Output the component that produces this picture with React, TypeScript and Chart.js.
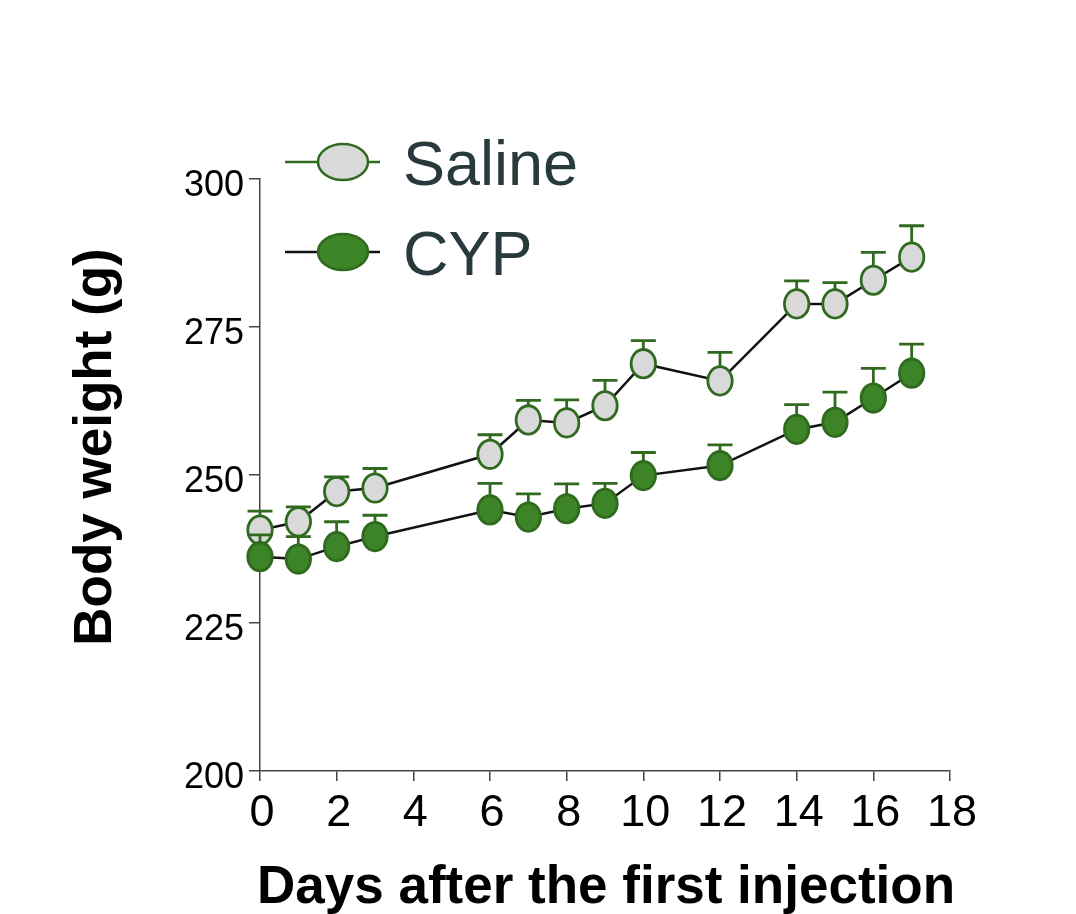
import React, { useEffect, useRef } from "react";
import { Chart, registerables } from "chart.js";

Chart.register(...registerables);

const days = [0, 1, 2, 3, 6, 7, 8, 9, 10, 12, 14, 15, 16, 17];
const salineMean = [240.7, 242.1, 247.2, 247.8, 253.5, 259.3, 258.8, 261.7, 268.8, 265.9, 278.9, 278.9, 282.9, 286.8];
const salineSem = [3.2, 2.5, 2.5, 3.3, 3.3, 3.3, 3.9, 4.3, 3.9, 4.8, 3.9, 3.6, 4.7, 5.3];
const cypMean = [236.2, 235.8, 237.9, 239.6, 244.1, 242.9, 244.3, 245.2, 249.9, 251.6, 257.7, 258.9, 263.0, 267.2];
const cypSem = [3.7, 3.8, 4.2, 3.6, 4.5, 3.9, 4.2, 3.4, 3.9, 3.5, 4.2, 5.1, 5.0, 4.9];
const seriesNames = ["Saline", "CYP"];
const xTitle = "Days after the first injection";
const yTitle = "Body weight (g)";

const GREEN_EDGE = "#2f6a1f";
const FILLS = ["#d9d9d9", "#3d8327"];
const LEGEND_LINES = [GREEN_EDGE, "#111111"];
const FONT = "'Liberation Sans', Arial, Helvetica, sans-serif";

export default function App() {
  const ref = useRef<HTMLCanvasElement | null>(null);

  useEffect(() => {
    if (!ref.current) return;
    const sems = [salineSem, cypSem];

    const overlay = {
      id: "overlay",
      afterDatasetDraw(chart: any, args: any) {
        const ctx = chart.ctx;
        const i = args.index;
        const meta = chart.getDatasetMeta(i);
        const yScale = chart.scales.y;
        const ds = chart.data.datasets[i];
        ctx.save();
        ctx.strokeStyle = GREEN_EDGE;
        ctx.lineWidth = 2.8;
        meta.data.forEach((pt: any, j: number) => {
          const v = ds.data[j].y;
          const top = yScale.getPixelForValue(v + sems[i][j]);
          ctx.beginPath();
          ctx.moveTo(pt.x, pt.y);
          ctx.lineTo(pt.x, top);
          ctx.moveTo(pt.x - 12.5, top);
          ctx.lineTo(pt.x + 12.5, top);
          ctx.stroke();
        });
        meta.data.forEach((pt: any) => {
          ctx.beginPath();
          ctx.ellipse(pt.x, pt.y, 12.2, 14.2, 0, 0, Math.PI * 2);
          ctx.fillStyle = FILLS[i];
          ctx.fill();
          ctx.lineWidth = 2.8;
          ctx.strokeStyle = GREEN_EDGE;
          ctx.stroke();
        });
        ctx.restore();
      },
      afterDraw(chart: any) {
        const ctx = chart.ctx;
        const a = chart.chartArea;
        ctx.save();
        ctx.fillStyle = "#000";
        ctx.font = `bold 53px ${FONT}`;
        ctx.textAlign = "center";
        ctx.textBaseline = "middle";
        ctx.fillText(xTitle, (a.left + a.right) / 2 + 1, a.bottom + 117);
        ctx.save();
        ctx.translate(a.left - 164, (a.top + a.bottom) / 2 - 28);
        ctx.rotate(-Math.PI / 2);
        ctx.fillText(yTitle, 0, 0);
        ctx.restore();
        const rows = [a.top - 17, a.top + 73];
        rows.forEach((y, i) => {
          ctx.strokeStyle = LEGEND_LINES[i];
          ctx.lineWidth = 2.5;
          ctx.beginPath();
          ctx.moveTo(a.left + 25, y);
          ctx.lineTo(a.left + 120, y);
          ctx.stroke();
          ctx.beginPath();
          ctx.ellipse(a.left + 83, y, 25, 18, 0, 0, Math.PI * 2);
          ctx.fillStyle = FILLS[i];
          ctx.fill();
          ctx.strokeStyle = GREEN_EDGE;
          ctx.lineWidth = 2.5;
          ctx.stroke();
          ctx.fillStyle = "#283a3c";
          ctx.font = `63px ${FONT}`;
          ctx.textAlign = "left";
          ctx.textBaseline = "middle";
          ctx.fillText(seriesNames[i], a.left + 143, y + 6);
        });
        ctx.restore();
      },
    };

    const chart = new Chart(ref.current, {
      type: "line",
      data: {
        datasets: [
          {
            label: seriesNames[0],
            data: days.map((d, k) => ({ x: d, y: salineMean[k] })),
            borderColor: "#111",
            borderWidth: 2.5,
            pointRadius: 0,
            order: 1,
          },
          {
            label: seriesNames[1],
            data: days.map((d, k) => ({ x: d, y: cypMean[k] })),
            borderColor: "#111",
            borderWidth: 2.5,
            pointRadius: 0,
            order: 0,
          },
        ],
      },
      options: {
        animation: false,
        responsive: false,
        devicePixelRatio: 1,
        layout: { padding: { left: 0, top: 179, right: 126, bottom: 0 } },
        plugins: { legend: { display: false }, tooltip: { enabled: false } },
        scales: {
          x: {
            type: "linear",
            min: 0,
            max: 18,
            afterFit: (s: any) => {
              s.height = 143;
            },
            ticks: {
              stepSize: 2,
              color: "#000",
              font: { family: FONT, size: 45 },
              padding: 6,
              labelOffset: 2,
            },
            grid: { drawOnChartArea: false, drawTicks: true, tickLength: 10, color: "#444", lineWidth: 1.5 },
            border: { display: true, color: "#444", width: 1.5 },
          },
          y: {
            type: "linear",
            min: 200,
            max: 300,
            afterFit: (s: any) => {
              s.width = 260;
            },
            ticks: {
              stepSize: 25,
              color: "#000",
              font: { family: FONT, size: 36 },
              padding: 5,
              labelOffset: 7,
            },
            grid: { drawOnChartArea: false, drawTicks: true, tickLength: 11, color: "#444", lineWidth: 1.5 },
            border: { display: true, color: "#444", width: 1.5 },
          },
        },
      },
      plugins: [overlay],
    } as any);
    return () => chart.destroy();
  }, []);

  return (
    <div style={{ position: "fixed", left: 0, top: 0, width: 1076, height: 914, background: "#fff" }}>
      <canvas ref={ref} width={1076} height={914} style={{ width: 1076, height: 914 }} />
    </div>
  );
}
